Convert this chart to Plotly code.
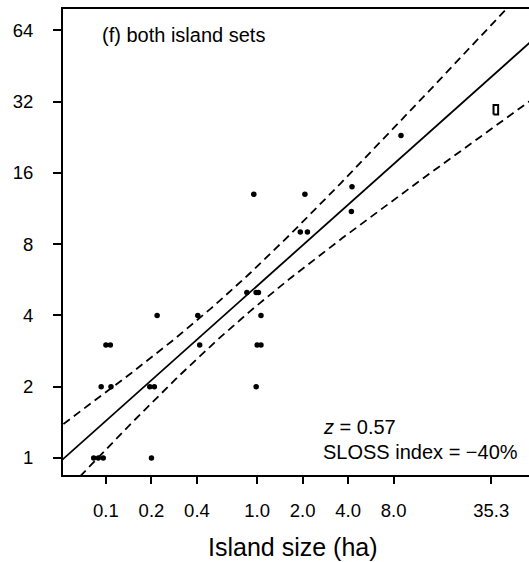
import numpy as np
import plotly.graph_objects as go

# Island areas (ha) and species counts, both island sets combined
area_ha = [0.083, 0.089, 0.096, 0.20,
           0.093, 0.108, 0.195, 0.209, 0.985,
           0.100, 0.107, 0.417, 1.00, 1.06,
           0.218, 0.405, 1.06,
           0.855, 0.985, 1.02,
           1.93, 2.15,
           4.2,
           0.95, 2.07,
           4.24,
           8.94]
species = [1, 1, 1, 1,
           2, 2, 2, 2, 2,
           3, 3, 3, 3, 3,
           4, 4, 4,
           5, 5, 5,
           9, 9,
           11,
           13, 13,
           14,
           23]

# Single large island (open rectangle)
big_area = [37.9]
big_species = [29.6]

Z = 0.57
SLOSS_INDEX = -40
T_CRIT = 2.056  # t(0.975, df = 26)

x_ticks = [0.1, 0.2, 0.4, 1.0, 2.0, 4.0, 8.0, 35.3]
x_tick_text = ["0.1", "0.2", "0.4", "1.0", "2.0", "4.0", "8.0", "35.3"]
y_ticks = [1, 2, 4, 8, 16, 32, 64]
y_tick_text = ["1", "2", "4", "8", "16", "32", "64"]

FONT = "Liberation Sans, Arial, Helvetica, sans-serif"

# log-log regression over all islands (slope fixed at z) with 95% confidence band
lx = np.log10(np.array(area_ha + big_area))
ly = np.log10(np.array(species + big_species, dtype=float))
n = len(lx)
xbar = lx.mean()
intercept = ly.mean() - Z * xbar
resid = ly - (intercept + Z * lx)
s = np.sqrt(np.sum(resid ** 2) / (n - 2))
sxx = np.sum((lx - xbar) ** 2)

gx = np.linspace(-1.35, 1.85, 200)
gy = intercept + Z * gx
half = T_CRIT * s * np.sqrt(1.0 / n + (gx - xbar) ** 2 / sxx)

fig = go.Figure()

fig.add_trace(go.Scatter(x=10 ** gx, y=10 ** gy, mode="lines",
                         line=dict(color="black", width=1.8),
                         hoverinfo="skip", showlegend=False))
for sign in (1, -1):
    fig.add_trace(go.Scatter(x=10 ** gx, y=10 ** (gy + sign * half), mode="lines",
                             line=dict(color="black", width=1.8, dash="8px,5px"),
                             hoverinfo="skip", showlegend=False))

fig.add_trace(go.Scatter(x=area_ha, y=species, mode="markers",
                         marker=dict(color="black", size=5.5, line=dict(width=0)),
                         showlegend=False))

# open rectangle marker for the large island
hx, hy = 0.0152, 0.0199
bx = np.log10(big_area[0])
by = np.log10(big_species[0])
rx = [bx - hx, bx + hx, bx + hx, bx - hx, bx - hx]
ry = [by - hy, by - hy, by + hy, by + hy, by - hy]
fig.add_trace(go.Scatter(x=10 ** np.array(rx), y=10 ** np.array(ry), mode="lines",
                         line=dict(color="black", width=2),
                         hoverinfo="skip", showlegend=False))

fig.update_layout(
    width=529, height=562,
    margin=dict(l=63, r=0, t=9, b=87),
    paper_bgcolor="white", plot_bgcolor="white",
    font=dict(family=FONT, color="black"),
    showlegend=False,
)

fig.update_xaxes(
    type="log", range=[-1.284, 1.798],
    tickvals=x_ticks, ticktext=x_tick_text,
    ticks="outside", ticklen=7, tickwidth=1.5, tickcolor="black",
    tickfont=dict(size=18.5, family=FONT, color="black"),
    ticklabelstandoff=11,
    showline=True, linecolor="black", linewidth=1.8, mirror=True,
    showgrid=False, zeroline=False,
)
fig.update_yaxes(
    type="log", range=[-0.0719, 1.8966],
    tickvals=y_ticks, ticktext=y_tick_text,
    ticks="outside", ticklen=8, tickwidth=1.5, tickcolor="black",
    tickfont=dict(size=18.5, family=FONT, color="black"),
    ticklabelstandoff=16,
    showline=True, linecolor="black", linewidth=1.8, mirror=False,
    showgrid=False, zeroline=False,
)

fig.add_annotation(text="Island size (ha)", xref="paper", yref="paper",
                   x=0.5, y=0, xshift=-3, yshift=-72, yanchor="middle",
                   showarrow=False, font=dict(size=25, family=FONT, color="black"))
fig.add_annotation(text="(f) both island sets", xref="paper", yref="paper",
                   x=0.0794, y=0.944, xanchor="left", yanchor="middle",
                   showarrow=False, font=dict(size=20, family=FONT, color="black"))
fig.add_annotation(text=f"<i>z</i> = {Z:.2f}", xref="paper", yref="paper",
                   x=0.553, y=0.103, xanchor="left", yanchor="middle",
                   showarrow=False, font=dict(size=20, family=FONT, color="black"))
fig.add_annotation(text=f"SLOSS index = \u2212{abs(SLOSS_INDEX)}%", xref="paper", yref="paper",
                   x=0.553, y=0.0487, xanchor="left", yanchor="middle",
                   showarrow=False, font=dict(size=20, family=FONT, color="black"))

fig.write_html("out.html")
